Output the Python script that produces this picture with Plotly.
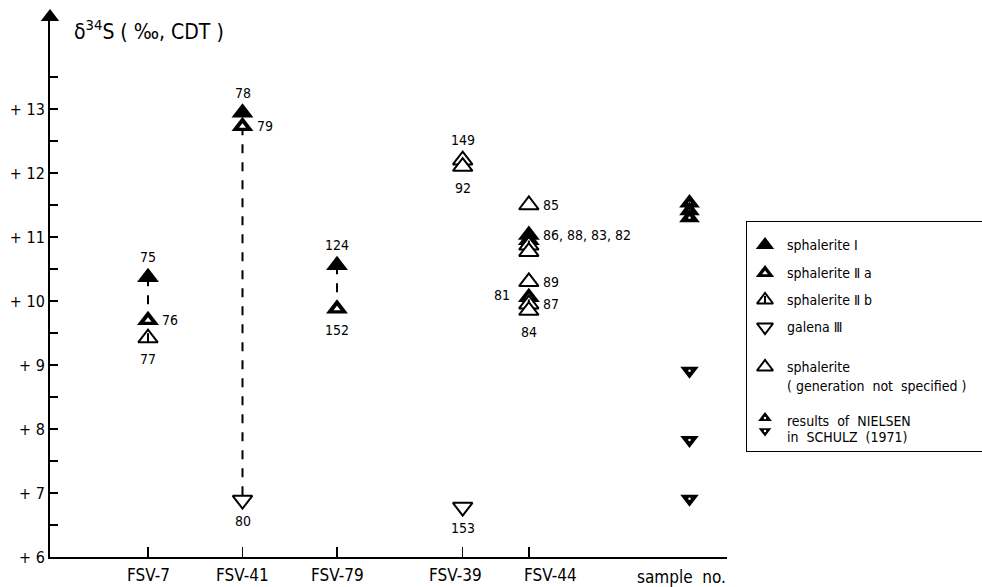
import plotly.graph_objects as go

# ---------------- data ----------------
sample_names = ["FSV-7", "FSV-41", "FSV-79", "FSV-39", "FSV-44"]
sample_pos = [1.0, 2.0, 3.0, 4.33, 5.03]
nielsen_pos = 6.73

# measurements: sample, kind, delta34S
meas_sample = ["FSV-7", "FSV-7", "FSV-7",
               "FSV-41", "FSV-41", "FSV-41",
               "FSV-79", "FSV-79",
               "FSV-39", "FSV-39", "FSV-39",
               "FSV-44", "FSV-44", "FSV-44", "FSV-44", "FSV-44",
               "FSV-44", "FSV-44", "FSV-44", "FSV-44"]
meas_kind = ["I", "IIa", "IIb",
             "I", "IIa", "III",
             "I", "IIa",
             "open", "open", "III",
             "open", "I", "IIa", "IIb", "open",
             "open", "IIa", "IIb", "open"]
meas_value = [10.37, 9.70, 9.42,
              12.94, 12.73, 6.89,
              10.56, 9.88,
              12.20, 12.10, 6.78,
              11.50, 11.03, 10.95, 10.87, 10.77,
              10.30, 10.06, 9.95, 9.85]

nielsen_kind = ["nsph", "nsph", "nsph", "ngal", "ngal", "ngal"]
nielsen_value = [11.53, 11.41, 11.30, 8.91, 7.83, 6.91]

# dashed connections (sample, from, to)
link_sample = ["FSV-7", "FSV-41", "FSV-79"]
link_from = [10.37, 12.73, 10.56]
link_to = [9.70, 6.89, 9.88]

# sample-number labels: sample, value anchor, text, side
lab_sample = ["FSV-7", "FSV-7", "FSV-7", "FSV-41", "FSV-41", "FSV-41",
              "FSV-79", "FSV-79", "FSV-39", "FSV-39", "FSV-39",
              "FSV-44", "FSV-44", "FSV-44", "FSV-44", "FSV-44", "FSV-44"]
lab_value = [10.37, 9.70, 9.42, 12.94, 12.73, 6.89,
             10.56, 9.88, 12.20, 12.10, 6.78,
             11.50, 11.03, 10.30, 10.06, 9.95, 9.85]
lab_text = ["75", "76", "77", "78", "79", "80",
            "124", "152", "149", "92", "153",
            "85", "86, 88, 83, 82", "89", "81", "87", "84"]
lab_side = ["above", "right", "below", "above", "right", "below",
            "above", "below", "above", "below", "below",
            "right", "right", "right", "left", "right", "below"]

y_ticks = [6, 7, 8, 9, 10, 11, 12, 13]
y_ticktext = ["+ 6", "+ 7", "+ 8", "+ 9", "+ 10", "+ 11", "+ 12", "+ 13"]
y_minor = [6.5, 7.5, 8.5, 9.5, 10.5, 11.5, 12.5, 13.5]

legend_kind = ["I", "IIa", "IIb", "III", "open"]
legend_text = ["sphalerite Ⅰ", "sphalerite Ⅱ a", "sphalerite Ⅱ b", "galena Ⅲ",
               "sphalerite"]

# ---------------- layout geometry ----------------
W, H = 982, 587
FONT = "DejaVu Sans Condensed"
pos_of = dict(zip(sample_names, sample_pos))

x_left_px, x_right_px = 50, 727
y_bottom_px, y_top_px = 557, 17
px_per_unit_x = 94.5
px_per_unit_y = 64.0
x0 = sample_pos[0] - (148 - x_left_px) / px_per_unit_x
x1 = x0 + (x_right_px - x_left_px) / px_per_unit_x
y_top_val = 6 + (y_bottom_px - y_top_px) / px_per_unit_y

fig = go.Figure()
S = 19


def add_marker(kind, x, y, xa="x", ya="y", size=S):
    common = dict(mode="markers", xaxis=xa, yaxis=ya, hoverinfo="skip",
                  showlegend=False, cliponaxis=False)
    if kind == "I":
        fig.add_trace(go.Scatter(x=[x], y=[y], marker=dict(symbol="triangle-up", size=size,
                                 color="black", line=dict(width=0)), **common))
    elif kind == "IIa":
        fig.add_trace(go.Scatter(x=[x], y=[y], marker=dict(symbol="triangle-up", size=size,
                                 color="black", line=dict(width=0)), **common))
        fig.add_trace(go.Scatter(x=[x], y=[y], marker=dict(symbol="triangle-up", size=size * 0.32,
                                 color="white", line=dict(width=0)), **common))
    elif kind == "IIb":
        fig.add_trace(go.Scatter(x=[x], y=[y], marker=dict(symbol="triangle-up", size=size - 2,
                                 color="white", line=dict(width=2, color="black")), **common))
        fig.add_trace(go.Scatter(x=[x], y=[y], marker=dict(symbol="line-ns-open", size=size * 0.36,
                                 color="black", line=dict(width=2, color="black")), **common))
    elif kind == "open":
        fig.add_trace(go.Scatter(x=[x], y=[y], marker=dict(symbol="triangle-up", size=size - 2,
                                 color="white", line=dict(width=2, color="black")), **common))
    elif kind == "III":
        fig.add_trace(go.Scatter(x=[x], y=[y], marker=dict(symbol="triangle-down", size=size - 2,
                                 color="white", line=dict(width=2, color="black")), **common))
    elif kind == "nsph":
        fig.add_trace(go.Scatter(x=[x], y=[y], marker=dict(symbol="triangle-up", size=size - 1,
                                 color="black", line=dict(width=0)), **common))
        fig.add_trace(go.Scatter(x=[x], y=[y], marker=dict(symbol="circle", size=2.5,
                                 color="white", line=dict(width=0)), **common))
    elif kind == "ngal":
        fig.add_trace(go.Scatter(x=[x], y=[y], marker=dict(symbol="triangle-down", size=size - 3,
                                 color="black", line=dict(width=0)), **common))
        fig.add_trace(go.Scatter(x=[x], y=[y], marker=dict(symbol="circle", size=2.5,
                                 color="white", line=dict(width=0)), **common))


# dashed connection lines
for s, a, b in zip(link_sample, link_from, link_to):
    fig.add_trace(go.Scatter(x=[pos_of[s], pos_of[s]], y=[a, b], mode="lines",
                             line=dict(color="black", width=2, dash="dash"),
                             hoverinfo="skip", showlegend=False))

# axis arrow head at the top of the y axis
fig.add_trace(go.Scatter(x=[x0], y=[y_top_val], mode="markers", cliponaxis=False,
                         marker=dict(symbol="triangle-up", size=16, color="black",
                                     line=dict(width=0)),
                         hoverinfo="skip", showlegend=False))

# markers, upper ones first so lower ones overlap them
order = sorted(range(len(meas_value)), key=lambda i: -meas_value[i])
for i in order:
    add_marker(meas_kind[i], pos_of[meas_sample[i]], meas_value[i])
for k, v in sorted(zip(nielsen_kind, nielsen_value), key=lambda t: -t[1]):
    add_marker(k, nielsen_pos, v)

annotations = []
shift = {"above": (0, 20, "center"), "below": (0, -21, "center"),
         "right": (12, 0, "left"), "left": (-17, 2, "right")}
for s, v, t, side in zip(lab_sample, lab_value, lab_text, lab_side):
    dx, dy, anc = shift[side]
    annotations.append(dict(x=pos_of[s], y=v, xref="x", yref="y", text=t, showarrow=False,
                            xshift=dx, yshift=dy, xanchor=anc, yanchor="middle",
                            font=dict(family=FONT, size=14, color="black")))

# category labels below the axis
label_xshift = [0, 0, 0, -7, 22]
for name, p, dx in zip(sample_names, sample_pos, label_xshift):
    annotations.append(dict(x=p, y=1 - 575 / H, xref="x", yref="paper", text=name,
                            showarrow=False, xshift=dx, xanchor="center", yanchor="middle",
                            font=dict(family=FONT, size=17, color="black")))
annotations.append(dict(x=6.65, y=1 - 577 / H, xref="x", yref="paper", text="sample  no.",
                        showarrow=False, xanchor="center", yanchor="middle",
                        font=dict(family=FONT, size=17, color="black")))

# axis title
annotations.append(dict(x=72 / W, y=1 - 30 / H, xref="paper", yref="paper",
                        text="δ<sup>34</sup>S ( ‰, CDT )", showarrow=False,
                        xanchor="left", yanchor="middle",
                        font=dict(family=FONT, size=21, color="black")))

# ---------------- legend (second axis pair = legend box) ----------------
lg_left, lg_top, lg_bottom = 747, 222, 451
lg_sym_x, lg_txt_x = 18, 38
lg_rows = [23, 51, 78, 105, 145]
for k, t, r in zip(legend_kind, legend_text, lg_rows):
    add_marker(k, lg_sym_x, r, xa="x2", ya="y2", size=16)
    annotations.append(dict(x=lg_txt_x, y=r, xref="x2", yref="y2", text=t, showarrow=False,
                            xanchor="left", yanchor="middle",
                            font=dict(family=FONT, size=14, color="black")))
annotations.append(dict(x=lg_txt_x, y=164, xref="x2", yref="y2",
                        text="( generation  not  specified )", showarrow=False,
                        xanchor="left", yanchor="middle",
                        font=dict(family=FONT, size=14, color="black")))
add_marker("nsph", lg_sym_x, 196, xa="x2", ya="y2", size=13)
add_marker("ngal", lg_sym_x, 209, xa="x2", ya="y2", size=14)
annotations.append(dict(x=lg_txt_x, y=199, xref="x2", yref="y2",
                        text="results  of  NIELSEN", showarrow=False,
                        xanchor="left", yanchor="middle",
                        font=dict(family=FONT, size=14, color="black")))
annotations.append(dict(x=lg_txt_x, y=215, xref="x2", yref="y2",
                        text="in  SCHULZ  (1971)", showarrow=False,
                        xanchor="left", yanchor="middle",
                        font=dict(family=FONT, size=14, color="black")))

fig.update_layout(
    width=W, height=H,
    margin=dict(l=0, r=0, t=0, b=0, autoexpand=False),
    paper_bgcolor="white", plot_bgcolor="white",
    showlegend=False,
    annotations=annotations,
    xaxis=dict(domain=[x_left_px / W, x_right_px / W], range=[x0, x1],
               showline=True, linecolor="black", linewidth=2, showgrid=False, zeroline=False,
               tickvals=sample_pos, ticks="inside", ticklen=10, tickwidth=1.5,
               tickcolor="black", showticklabels=False, automargin=False),
    yaxis=dict(domain=[1 - y_bottom_px / H, 1 - y_top_px / H], range=[6, y_top_val],
               showline=True, linecolor="black", linewidth=2, showgrid=False, zeroline=False,
               tickvals=y_ticks, ticktext=y_ticktext, ticks="inside", ticklen=8, tickwidth=1.5,
               tickcolor="black", automargin=False,
               tickfont=dict(family=FONT, size=16, color="black"),
               minor=dict(tickvals=y_minor, ticks="inside", ticklen=8, tickwidth=1.5,
                          tickcolor="black")),
    xaxis2=dict(domain=[lg_left / W, 1.0], range=[0, W - lg_left], anchor="y2",
                showline=True, mirror=True, linecolor="black", linewidth=1,
                showgrid=False, zeroline=False, showticklabels=False, ticks=""),
    yaxis2=dict(domain=[1 - lg_bottom / H, 1 - lg_top / H], range=[lg_bottom - lg_top, 0],
                anchor="x2", showline=True, mirror=True, linecolor="black", linewidth=1,
                showgrid=False, zeroline=False, showticklabels=False, ticks=""),
)

fig.write_html("out.html", config={"displayModeBar": False, "staticPlot": True},
               post_script="document.body.style.margin='0';document.body.style.overflow='hidden';")
